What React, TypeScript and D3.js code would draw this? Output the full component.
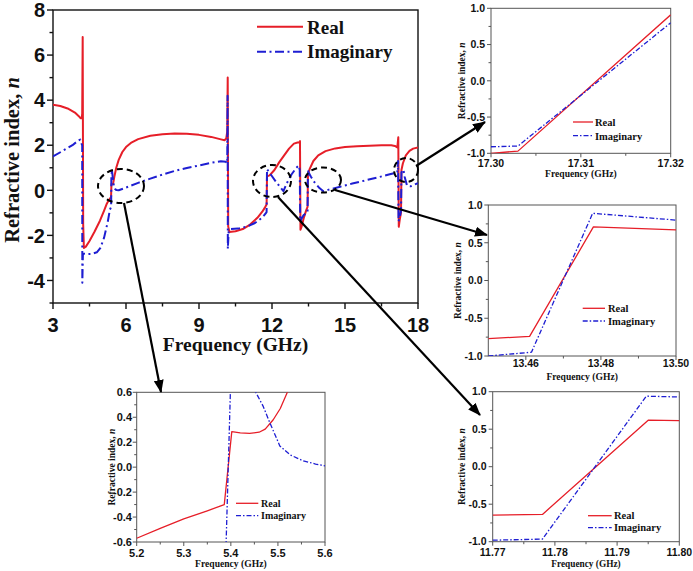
import React from 'react';
import * as d3 from 'd3';

type P = [number, number];

const RED = '#e61e28';
const BLUE = '#1e1ed2';

// ---------- main chart data ----------
const mainXTicks = [3, 6, 9, 12, 15, 18];
const mainXMinor = [4.5, 7.5, 10.5, 13.5, 16.5];
const mainYTicks = [-4, -2, 0, 2, 4, 6, 8];
const mainYMinor = [-5, -3, -1, 1, 3, 5, 7];

const mainReal: P[] = [
  [3.0, 3.8], [3.3, 3.74], [3.6, 3.63], [3.9, 3.45], [4.05, 3.3], [4.13, 3.2], [4.18, 3.2], [4.2, 3.4],
  [4.22, 6.8], [4.24, -1.5], [4.27, -2.56], [4.35, -2.5], [4.5, -2.25], [4.7, -1.85], [4.93, -1.35],
  [5.1, -0.9], [5.2, -0.62], [5.3, -0.42], [5.386, -0.3], [5.402, 0.285], [5.44, 0.27], [5.473, 0.305],
  [5.52, 0.6], [5.6, 1.0], [5.7, 1.35], [5.85, 1.7], [6.0, 1.92], [6.2, 2.1], [6.5, 2.27], [7.0, 2.42],
  [7.5, 2.49], [8.0, 2.52], [8.5, 2.51], [9.0, 2.46], [9.5, 2.37], [9.9, 2.26], [10.05, 2.22], [10.12, 2.3],
  [10.16, 2.6], [10.18, 5.0], [10.2, -1.6], [10.25, -1.85], [10.5, -1.82], [10.8, -1.72], [11.1, -1.52],
  [11.4, -1.22], [11.6, -0.95], [11.7, -0.78], [11.77, -0.645], [11.778, -0.636], [11.795, 0.62],
  [11.9, 0.66], [12.1, 0.9], [12.3, 1.25], [12.5, 1.55], [12.7, 1.85], [12.9, 2.07], [13.05, 2.12],
  [13.12, 2.13], [13.15, 2.18], [13.17, -1.75], [13.22, -1.6], [13.3, -1.25], [13.4, -0.9], [13.461, -0.74],
  [13.478, 0.71], [13.55, 0.95], [13.7, 1.3], [13.9, 1.55], [14.2, 1.74], [14.6, 1.86], [15.0, 1.92],
  [15.5, 1.96], [16.0, 1.98], [16.5, 2.0], [16.9, 2.0], [17.05, 1.97], [17.15, 1.9], [17.19, 2.35],
  [17.21, -1.62], [17.25, -1.3], [17.3, -1.0], [17.303, -0.97], [17.32, 0.9], [17.38, 1.2], [17.5, 1.55],
  [17.65, 1.75], [17.8, 1.85], [18.0, 1.9],
];

const mainImag: P[] = [
  [3.0, 1.5], [3.4, 1.75], [3.8, 2.0], [4.05, 2.22], [4.12, 2.25], [4.18, 2.05], [4.2, 2.0], [4.205, -4.1],
  [4.23, -2.8], [4.4, -2.83], [4.6, -2.82], [4.8, -2.75], [4.95, -2.55], [5.1, -2.1], [5.25, -1.4],
  [5.34, -0.85], [5.385, -0.75], [5.39, -0.6], [5.399, 0.6], [5.42, 0.92], [5.453, 0.6], [5.483, 0.354],
  [5.504, 0.164], [5.554, 0.057], [5.6, 0.01], [5.7, 0.0], [6.0, 0.12], [6.5, 0.33], [7.0, 0.52], [7.5, 0.7],
  [8.0, 0.86], [8.5, 0.99], [9.0, 1.1], [9.5, 1.22], [9.9, 1.29], [10.1, 1.27], [10.16, 1.2], [10.175, 4.2],
  [10.185, -2.6], [10.22, -1.8], [10.3, -1.72], [10.6, -1.7], [11.0, -1.6], [11.3, -1.45], [11.55, -1.25],
  [11.7, -1.08], [11.77, -0.98], [11.778, -0.965], [11.7947, 0.94], [11.8, 0.93], [11.95, 0.7], [12.15, 0.4],
  [12.35, 0.12], [12.47, -0.04], [12.6, 0.3], [12.8, 0.7], [13.0, 1.0], [13.1, 1.1], [13.14, 0.9],
  [13.16, -1.38], [13.22, -1.25], [13.3, -1.1], [13.4, -1.02], [13.45, -1.0], [13.4615, -0.95],
  [13.4778, 0.89], [13.5, 0.8], [13.6, 0.6], [13.75, 0.35], [13.95, 0.1], [14.11, -0.04], [14.3, 0.02],
  [14.8, 0.16], [15.3, 0.3], [15.8, 0.43], [16.3, 0.56], [16.8, 0.7], [17.05, 0.77], [17.15, 0.8],
  [17.18, 1.3], [17.2, -1.38], [17.25, -1.2], [17.3, -0.92], [17.303, -0.9], [17.32, 0.8], [17.4, 0.92],
  [17.45, 0.6], [17.55, 0.2], [17.7, 0.18], [17.85, 0.25], [18.0, 0.32],
];

// ---------- inset A: 17.30 - 17.32 GHz ----------
const aXTicks = [17.3, 17.31, 17.32];
const aXMinor = [17.305, 17.315];
const aYTicks = [-1.0, -0.5, 0.0, 0.5, 1.0];
const aYMinor = [-0.75, -0.25, 0.25, 0.75];
const aReal: P[] = [[17.3, -1.0], [17.303, -0.97], [17.32, 0.91]];
const aImag: P[] = [[17.3, -0.91], [17.303, -0.9], [17.32, 0.8]];

// ---------- inset B: 13.45 - 13.50 GHz ----------
const bXTicks = [13.46, 13.48, 13.5];
const bXMinor = [13.47, 13.49];
const bYTicks = [-1.0, -0.5, 0.0, 0.5, 1.0];
const bYMinor = [-0.75, -0.25, 0.25, 0.75];
const bReal: P[] = [[13.45, -0.77], [13.461, -0.74], [13.478, 0.71], [13.5, 0.67]];
const bImag: P[] = [[13.45, -1.0], [13.4615, -0.95], [13.4778, 0.89], [13.5, 0.8]];

// ---------- inset C: 11.77 - 11.80 GHz ----------
const cXTicks = [11.77, 11.78, 11.79, 11.8];
const cXMinor = [11.775, 11.785, 11.795];
const cYTicks = [-1.0, -0.5, 0.0, 0.5, 1.0];
const cYMinor = [-0.75, -0.25, 0.25, 0.75];
const cReal: P[] = [[11.77, -0.645], [11.778, -0.636], [11.795, 0.62], [11.8, 0.615]];
const cImag: P[] = [[11.77, -0.98], [11.778, -0.965], [11.7947, 0.94], [11.8, 0.93]];

// ---------- inset D: 5.2 - 5.6 GHz ----------
const dXTicks = [5.2, 5.3, 5.4, 5.5, 5.6];
const dXMinor = [5.25, 5.35, 5.45, 5.55];
const dYTicks = [-0.6, -0.4, -0.2, 0.0, 0.2, 0.4, 0.6];
const dYMinor = [-0.5, -0.3, -0.1, 0.1, 0.3, 0.5];
const dReal: P[] = [
  [5.2, -0.57], [5.25, -0.49], [5.3, -0.415], [5.35, -0.35], [5.386, -0.3], [5.402, 0.285], [5.42, 0.275],
  [5.44, 0.27], [5.46, 0.28], [5.473, 0.305], [5.49, 0.38], [5.505, 0.47], [5.52, 0.6], [5.54, 0.75],
];
const dImag: P[] = [
  [5.385, -0.8], [5.39, -0.6], [5.399, 0.6], [5.405, 0.8], [5.42, 0.92], [5.44, 0.78], [5.453, 0.6],
  [5.469, 0.485], [5.483, 0.354], [5.495, 0.25], [5.504, 0.17], [5.526, 0.098], [5.554, 0.05], [5.58, 0.025],
  [5.6, 0.01],
];

const seriesNames = ['Real', 'Imaginary'];

const SANS = '"Liberation Sans", Arial, sans-serif';
const SERIF = '"Liberation Serif", "Times New Roman", serif';

interface Cfg {
  id: string;
  left: number; top: number; width: number; height: number;
  xDomain: [number, number]; yDomain: [number, number];
  xTicks: number[]; xMinor: number[]; yTicks: number[]; yMinor: number[];
  xFmt: (v: number) => string; yFmt: (v: number) => string;
  tickFont: number; titleFont: number; yTitleFont: number;
  majorLen: number; minorLen: number;
  xLabelBase: number; xTitleBase: number; yLabelRight: number; yTitleX: number; yTitleY?: number;
  real: P[]; imag: P[];
  lineW: number; dash: string; frameColor: string; frameW: number;
  legend: { x1: number; x2: number; y1: number; y2: number; tx: number; b1: number; b2: number; font: number };
}

function Panel({ c }: { c: Cfg }) {
  const x = d3.scaleLinear().domain(c.xDomain).range([c.left, c.left + c.width]);
  const y = d3.scaleLinear().domain(c.yDomain).range([c.top + c.height, c.top]);
  const line = d3.line<P>().x(d => x(d[0])).y(d => y(d[1]));
  const bottom = c.top + c.height;
  const xTitleX = c.left + c.width / 2;
  const yTitleY = c.yTitleY ?? c.top + c.height / 2;
  return (
    <g>
      <defs>
        <clipPath id={`clip-${c.id}`}>
          <rect x={c.left} y={c.top} width={c.width} height={c.height} />
        </clipPath>
      </defs>
      <rect x={c.left} y={c.top} width={c.width} height={c.height} fill="none" stroke={c.frameColor} strokeWidth={c.frameW} />
      {c.xTicks.map(t => (
        <g key={`xt${t}`}>
          <line x1={x(t)} x2={x(t)} y1={bottom} y2={bottom + c.majorLen} stroke={c.frameColor} strokeWidth={c.frameW} />
          <text x={x(t)} y={bottom + c.xLabelBase} textAnchor="middle" fontFamily={SANS} fontWeight="bold" fontSize={c.tickFont} fill="#111">{c.xFmt(t)}</text>
        </g>
      ))}
      {c.xMinor.map(t => (
        <line key={`xm${t}`} x1={x(t)} x2={x(t)} y1={bottom} y2={bottom + c.minorLen} stroke={c.frameColor} strokeWidth={c.frameW} />
      ))}
      {c.yTicks.map(t => (
        <g key={`yt${t}`}>
          <line x1={c.left - c.majorLen} x2={c.left} y1={y(t)} y2={y(t)} stroke={c.frameColor} strokeWidth={c.frameW} />
          <text x={c.yLabelRight} y={y(t)} dy="0.36em" textAnchor="end" fontFamily={SANS} fontWeight="bold" fontSize={c.tickFont} fill="#111">{c.yFmt(t)}</text>
        </g>
      ))}
      {c.yMinor.map(t => (
        <line key={`ym${t}`} x1={c.left - c.minorLen} x2={c.left} y1={y(t)} y2={y(t)} stroke={c.frameColor} strokeWidth={c.frameW} />
      ))}
      <text x={xTitleX} y={bottom + c.xTitleBase} textAnchor="middle" fontFamily={SERIF} fontWeight="bold" fontSize={c.titleFont} fill="#111">Frequency (GHz)</text>
      <text transform={`translate(${c.yTitleX},${yTitleY}) rotate(-90)`} textAnchor="middle" fontFamily={SERIF} fontWeight="bold" fontSize={c.yTitleFont} fill="#111">
        Refractive index, <tspan fontStyle="italic">n</tspan>
      </text>
      <g clipPath={`url(#clip-${c.id})`}>
        <path d={line(c.real) || ''} fill="none" stroke={RED} strokeWidth={c.lineW} strokeLinejoin="round" />
        <path d={line(c.imag) || ''} fill="none" stroke={BLUE} strokeWidth={c.lineW} strokeDasharray={c.dash} strokeLinejoin="round" />
      </g>
      <line x1={c.legend.x1} x2={c.legend.x2} y1={c.legend.y1} y2={c.legend.y1} stroke={RED} strokeWidth={c.lineW} />
      <line x1={c.legend.x1} x2={c.legend.x2} y1={c.legend.y2} y2={c.legend.y2} stroke={BLUE} strokeWidth={c.lineW} strokeDasharray={c.dash} />
      <text x={c.legend.tx} y={c.legend.b1} fontFamily={SERIF} fontWeight="bold" fontSize={c.legend.font} fill="#111">{seriesNames[0]}</text>
      <text x={c.legend.tx} y={c.legend.b2} fontFamily={SERIF} fontWeight="bold" fontSize={c.legend.font} fill="#111">{seriesNames[1]}</text>
    </g>
  );
}

const f1 = (v: number) => v.toFixed(1);
const f2 = (v: number) => v.toFixed(2);
const f0 = (v: number) => String(v);

const insetCommon = {
  tickFont: 10.5, titleFont: 9.6, yTitleFont: 9.5, majorLen: 4, minorLen: 2.5,
  lineW: 1.3, dash: '5,2,1.5,2', frameColor: '#555', frameW: 1,
};

const mainCfg: Cfg = {
  id: 'main', left: 53, top: 10, width: 365, height: 293,
  xDomain: [3, 18], yDomain: [-5, 8],
  xTicks: mainXTicks, xMinor: mainXMinor, yTicks: mainYTicks, yMinor: mainYMinor,
  xFmt: f0, yFmt: f0,
  tickFont: 20, titleFont: 19.5, yTitleFont: 20.5, majorLen: 6, minorLen: 3.5,
  xLabelBase: 29, xTitleBase: 48, yLabelRight: 45, yTitleX: 19, yTitleY: 160,
  real: mainReal, imag: mainImag,
  lineW: 2, dash: '9,3.5,2,3.5', frameColor: '#111', frameW: 1.4,
  legend: { x1: 257, x2: 303, y1: 26.7, y2: 51.7, tx: 307, b1: 33.5, b2: 57.5, font: 19 },
};

const aCfg: Cfg = {
  id: 'a', left: 491, top: 8.3, width: 179.7, height: 145,
  xDomain: [17.3, 17.32], yDomain: [-1, 1],
  xTicks: aXTicks, xMinor: aXMinor, yTicks: aYTicks, yMinor: aYMinor,
  xFmt: f2, yFmt: f1, ...insetCommon,
  xLabelBase: 13.5, xTitleBase: 23.5, yLabelRight: 485, yTitleX: 465,
  real: aReal, imag: aImag,
  legend: { x1: 573, x2: 593, y1: 122, y2: 135.7, tx: 595, b1: 125.8, b2: 139.5, font: 10.5 },
};

const bCfg: Cfg = {
  id: 'b', left: 488.3, top: 205, width: 187.7, height: 151,
  xDomain: [13.45, 13.5], yDomain: [-1, 1],
  xTicks: bXTicks, xMinor: bXMinor, yTicks: bYTicks, yMinor: bYMinor,
  xFmt: f2, yFmt: f1, ...insetCommon,
  xLabelBase: 11, xTitleBase: 24, yLabelRight: 482.5, yTitleX: 461,
  real: bReal, imag: bImag,
  legend: { x1: 582.7, x2: 605, y1: 308.3, y2: 321, tx: 608, b1: 312, b2: 324.7, font: 10.5 },
};

const cCfg: Cfg = {
  id: 'c', left: 492.7, top: 391.7, width: 186.6, height: 150,
  xDomain: [11.77, 11.8], yDomain: [-1, 1],
  xTicks: cXTicks, xMinor: cXMinor, yTicks: cYTicks, yMinor: cYMinor,
  xFmt: f2, yFmt: f1, ...insetCommon, titleFont: 9.3,
  xLabelBase: 14, xTitleBase: 25.5, yLabelRight: 486.5, yTitleX: 465,
  real: cReal, imag: cImag,
  legend: { x1: 588, x2: 611.7, y1: 515.7, y2: 527.7, tx: 614, b1: 519.4, b2: 531.4, font: 10.5 },
};

const dCfg: Cfg = {
  id: 'd', left: 136.7, top: 392.3, width: 188.3, height: 149.7,
  xDomain: [5.2, 5.6], yDomain: [-0.6, 0.6],
  xTicks: dXTicks, xMinor: dXMinor, yTicks: dYTicks, yMinor: dYMinor,
  xFmt: f1, yFmt: f1, ...insetCommon, tickFont: 11,
  xLabelBase: 15, xTitleBase: 25, yLabelRight: 132, yTitleX: 115,
  real: dReal, imag: dImag,
  legend: { x1: 236, x2: 258.3, y1: 503.3, y2: 515.7, tx: 261, b1: 507, b2: 519.4, font: 10 },
};

const ellipses = [
  { cx: 121, cy: 186, rx: 23, ry: 17 },
  { cx: 272, cy: 181, rx: 19, ry: 16 },
  { cx: 323, cy: 180, rx: 18, ry: 12.5 },
  { cx: 406, cy: 170, rx: 12, ry: 12 },
];

const arrows = [
  { x1: 124, y1: 203, x2: 161, y2: 392 },
  { x1: 278, y1: 197, x2: 480, y2: 415 },
  { x1: 335, y1: 190, x2: 487, y2: 235 },
  { x1: 416, y1: 166, x2: 485, y2: 122 },
];

export default function App() {
  return (
    <svg width={693} height={571} viewBox="0 0 693 571" style={{ position: 'absolute', left: 0, top: 0, background: '#fff' }}>
      <defs>
        <marker id="arrowhead" markerUnits="userSpaceOnUse" markerWidth={13} markerHeight={10} refX={12} refY={5} orient="auto">
          <path d="M0,0 L13,5 L0,10 z" fill="#000" />
        </marker>
      </defs>
      <rect x={0} y={0} width={693} height={571} fill="#fff" />
      <Panel c={mainCfg} />
      <Panel c={aCfg} />
      <Panel c={bCfg} />
      <Panel c={cCfg} />
      <Panel c={dCfg} />
      {ellipses.map((e, i) => (
        <ellipse key={`e${i}`} cx={e.cx} cy={e.cy} rx={e.rx} ry={e.ry} fill="none" stroke="#000" strokeWidth={2} strokeDasharray="6,4" />
      ))}
      {arrows.map((a, i) => (
        <line key={`a${i}`} x1={a.x1} y1={a.y1} x2={a.x2} y2={a.y2} stroke="#000" strokeWidth={2.2} markerEnd="url(#arrowhead)" />
      ))}
    </svg>
  );
}
